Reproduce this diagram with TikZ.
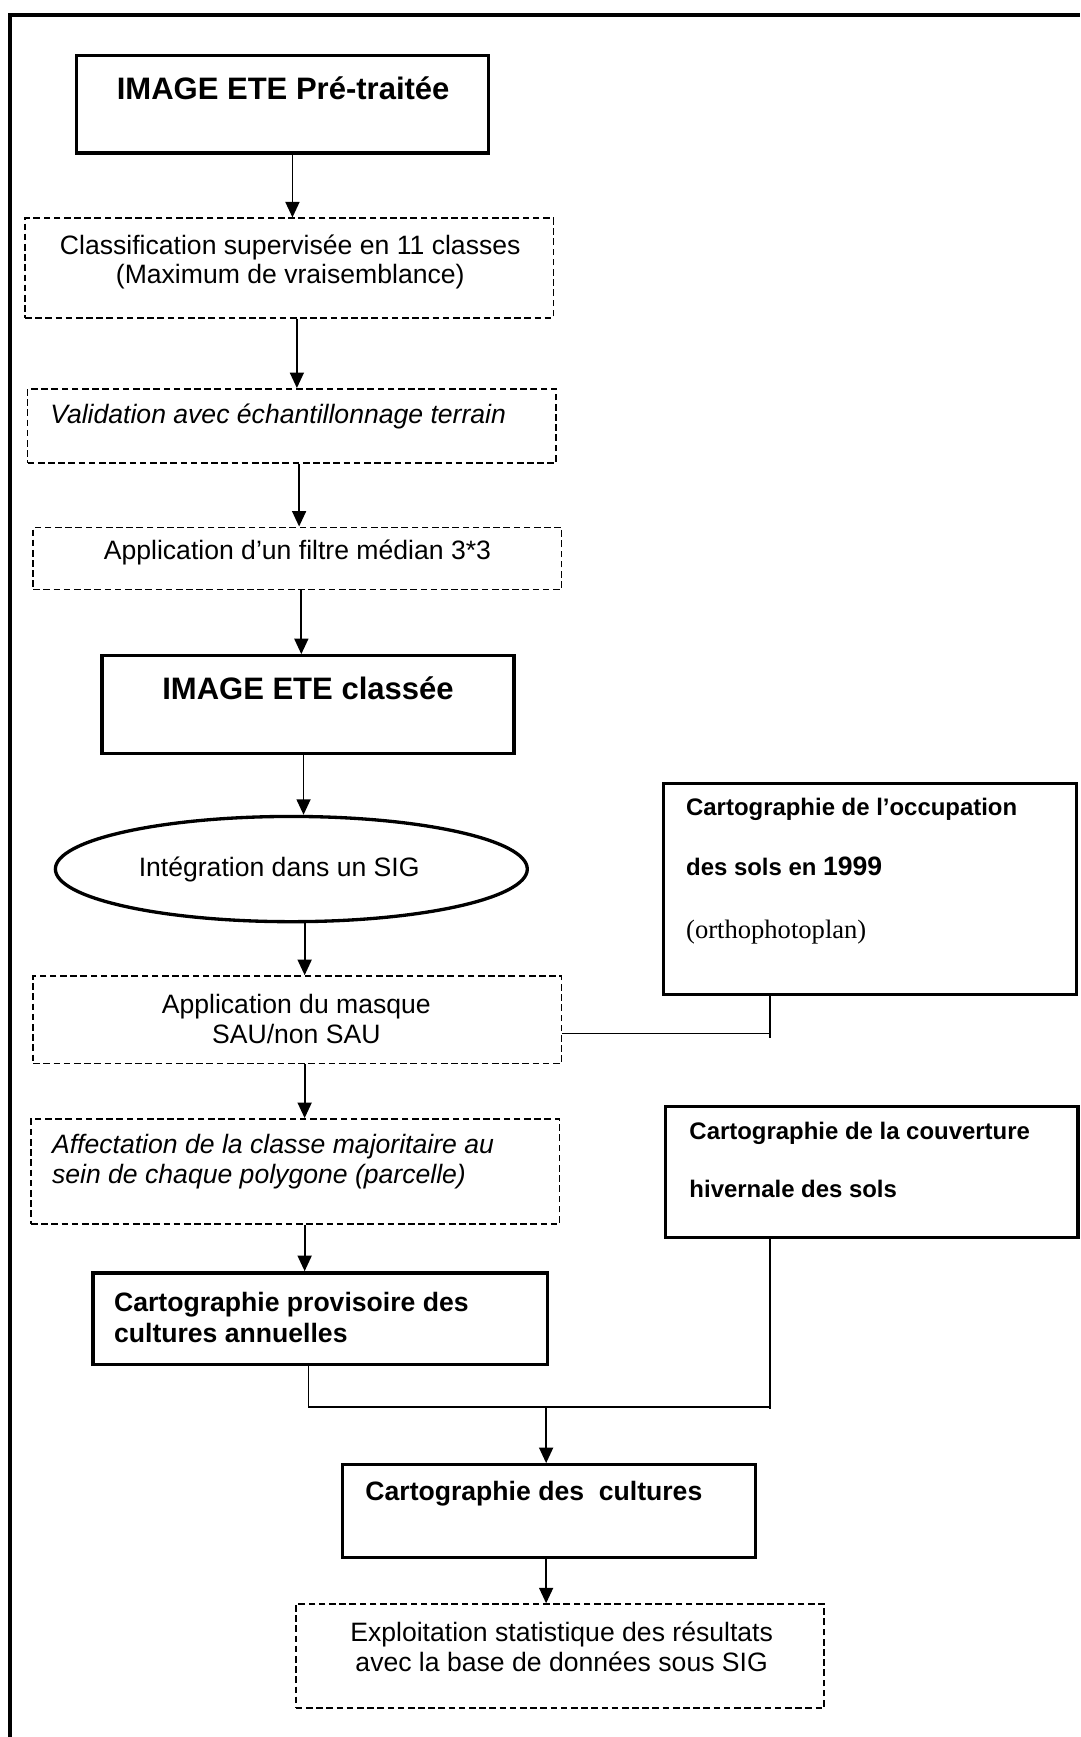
\documentclass[tikz,border=0pt]{standalone}
\usepackage{fontspec}
\setmainfont{Liberation Sans}
\newfontfamily\timesfont{Liberation Serif}
\usetikzlibrary{arrows.meta,shapes.geometric,calc}

\begin{document}
\begin{tikzpicture}[x=0.5pt,y=-0.5pt,
  cadre/.style={draw,line width=1.8pt},
  boite/.style={draw,line width=1.5pt,inner sep=0pt},
  tirets/.style={draw,line width=0.7pt,dash pattern=on 3pt off 1.6pt,inner sep=0pt},
  texte/.style={inner sep=0pt,font=\fontsize{12}{13.5}\selectfont},
  italique/.style={inner sep=0pt,align=left,font=\fontsize{12}{13.5}\selectfont\itshape},
  titre/.style={inner sep=0pt,font=\fontsize{14}{16}\selectfont\bfseries},
  gras/.style={inner sep=0pt,align=left,font=\fontsize{12}{14}\selectfont\bfseries},
  petit/.style={inner sep=0pt,font=\fontsize{10.8}{13}\selectfont\bfseries},
  fleche/.style={draw,line width=0.8pt,-{Triangle[length=7pt,width=6.3pt]}},
  trait/.style={draw,line width=0.8pt}]
\useasboundingbox(0,0)rectangle(975,1568);
%cadre
\path[cadre](9.3,1568)|-(975,13.5);
%colonne de gauche
\node[boite,minimum width=186pt,minimum height=44pt](img)at(255,94){};
\node[titre](timg)at(255.6,80){IMAGE ETE Pré-traitée};
\node[tirets,minimum width=238.5pt,minimum height=45pt](cls)at(261,242){};
\node[texte,align=center](tcls)at(262,236.5){Classification supervisée en 11 classes\\(Maximum de vraisemblance)};
\node[tirets,minimum width=238.5pt,minimum height=33.5pt](val)at(263.5,384.5){};
\node[italique,anchor=west](tval)at(45,376){Validation avec échantillonnage terrain};
\node[tirets,minimum width=238.5pt,minimum height=28pt](filt)at(268.5,504){};
\node[texte](tfilt)at(268.5,499){Application d’un filtre médian 3*3};
\node[boite,minimum width=186pt,minimum height=44pt](cla)at(278,636){};
\node[titre](tcla)at(278,621){IMAGE ETE classée};
\node[boite,ellipse,minimum width=213pt,minimum height=47.5pt](sig)at(263,784.5){};
\node[texte](tsig)at(252,785){Intégration dans un SIG};
\node[tirets,minimum width=238.5pt,minimum height=39.5pt](mask)at(268.5,920.5){};
\node[texte,align=center](tmask)at(267.5,919.5){Application du masque\\SAU/non SAU};
\node[tirets,minimum width=238.5pt,minimum height=47.5pt](aff)at(266.5,1057.5){};
\node[italique,anchor=west](taff)at(46.6,1049){Affectation de la classe majoritaire au\\sein de chaque polygone (parcelle)};
\node[boite,minimum width=205pt,minimum height=41.5pt](prov)at(289,1190.5){};
\node[gras,anchor=west](tprov)at(102.6,1189.5){Cartographie provisoire des\\cultures annuelles};
%colonne de droite
\node[boite,minimum width=186.5pt,minimum height=95.5pt](occ)at(785.5,802.5){};
\node[petit,anchor=west](tocc1)at(619,731){Cartographie de l’occupation};
\node[petit,anchor=west](tocc2)at(619,782){des sols en {\fontsize{12}{14}\selectfont 1999}};
\node[texte,font=\timesfont\fontsize{12}{14}\selectfont,anchor=west](tocc3)at(619,841){(orthophotoplan)};
\node[boite,minimum width=186pt,minimum height=59pt](hiv)at(787,1058){};
\node[petit,anchor=west](thiv1)at(622,1023){Cartographie de la couverture};
\node[petit,anchor=west](thiv2)at(622,1073){hivernale des sols};
%bas
\node[boite,minimum width=186.5pt,minimum height=41.75pt](cult)at(495.5,1364){};
\node[gras,anchor=west](tcult)at(329.5,1348){Cartographie des\ \ cultures};
\node[tirets,minimum width=238.5pt,minimum height=47pt](stat)at(505.5,1495){};
\node[texte,align=center](tstat)at(507,1487){Exploitation statistique des résultats\\avec la base de données sous SIG};
%flèches
\path[fleche](264,0|-img.south)to(264,0|-cls.north);
\path[fleche](268,0|-cls.south)to(268,0|-val.north);
\path[fleche](270,0|-val.south)to(270,0|-filt.north);
\path[fleche](272,0|-filt.south)to(272,0|-cla.north);
\path[fleche](274,0|-cla.south)to(274,0|-sig.north);
\path[fleche](275,0|-sig.south)to(275,0|-mask.north);
\path[fleche](275,0|-mask.south)to(275,0|-aff.north);
\path[fleche](275,0|-aff.south)to(275,0|-prov.north);
%masque SAU
\coordinate(j1)at(695,933);
\path[trait](mask.east|-j1)to(j1);
\path[trait](occ.south-|j1)to($(j1)+(0,4)$);
%jonction
\coordinate(j2)at(493,1270);
\path[trait](278.5,0|-prov.south)to(278.5,1270)to(695,1270);
\path[trait](hiv.south-|695,0)to(695,1272);
\path[fleche](j2)to(j2|-cult.north);
\path[fleche](493,0|-cult.south)to(493,0|-stat.north);
\end{tikzpicture}
\end{document}
